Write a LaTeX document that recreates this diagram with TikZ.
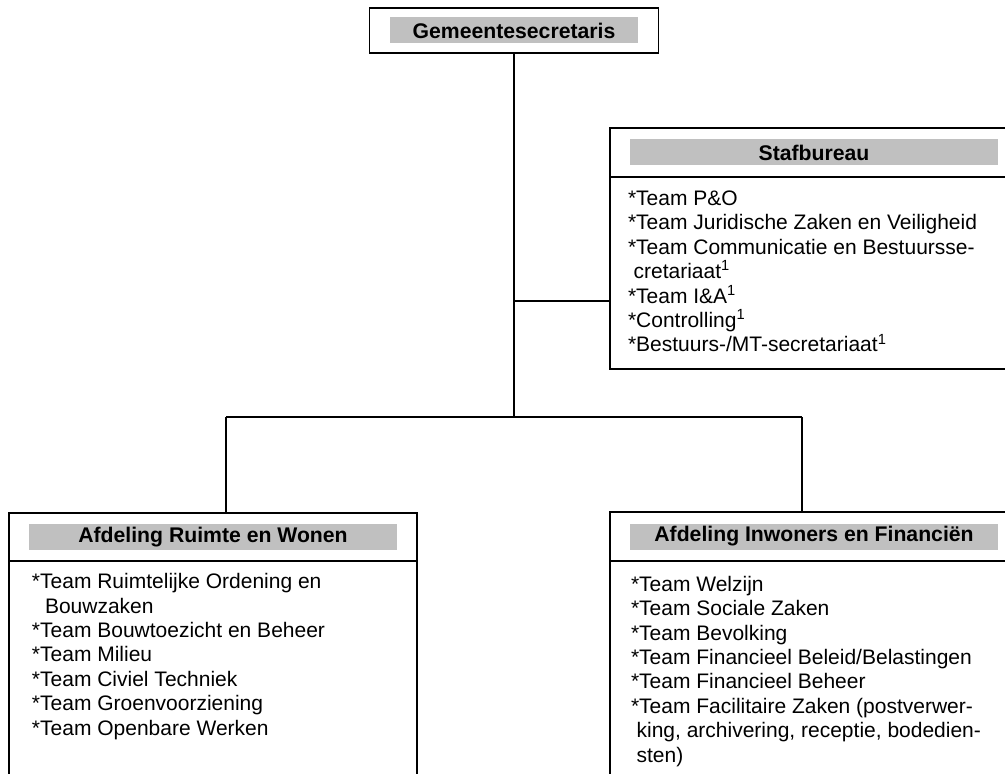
\documentclass[tikz,border=0pt]{standalone}
\usepackage{fontspec}
\setmainfont{Liberation Sans}
\definecolor{bargray}{RGB}{192,192,192}
\begin{document}
\begin{tikzpicture}
  [x=0.5pt,y=-0.5pt,line width=0.9pt,
   every node/.style={inner sep=0pt,outer sep=0pt,font=\fontsize{10.5}{12.2}\selectfont},
   headbox/.style={draw,anchor=north west,minimum height=24pt,minimum width=204pt},
   bodybox/.style={draw,anchor=north west,minimum width=204pt},
   bar/.style={fill=bargray,minimum width=184pt,minimum height=13pt,font=\fontsize{10.6}{12}\selectfont\bfseries},
   teamlist/.style={anchor=base west,align=left}]
  \clip (0,0) rectangle (1005,774);

  % top
  \node[headbox,minimum width=144.5pt,minimum height=22.5pt] (gs) at (369.5,8) {};
  \node[bar,minimum width=124pt] (gsbar) at (gs.center) {Gemeentesecretaris};

  % staf (list placed by its last baseline)
  \node[headbox,minimum height=24.5pt] (stafhead) at (610,128) {};
  \node[bar] (stafbar) at (stafhead.center) {Stafbureau};
  \node[bodybox,minimum height=96pt] (stafbody) at (stafhead.south west) {};
  \node[teamlist] (staflist) at (628,352) {*Team P\&O\\
    *Team Juridische Zaken en Veiligheid\\
    *Team Communicatie en Bestuursse-\\
    \hspace*{2.8pt}cretariaat\textsuperscript{1}\\
    *Team I\&A\textsuperscript{1}\\
    *Controlling\textsuperscript{1}\\
    *Bestuurs-/MT-secretariaat\textsuperscript{1}};

  % afdelingen
  \node[headbox] (arwhead) at (9,513) {};
  \node[bar] (arwbar) at (arwhead.center) {Afdeling Ruimte en Wonen};
  \node[bodybox,minimum height=130pt] (arwbody) at (arwhead.south west) {};
  \node[teamlist] (arwlist) at (32,735) {*Team Ruimtelijke Ordening en\\
    \hspace*{6.5pt}Bouwzaken\\
    *Team Bouwtoezicht en Beheer\\
    *Team Milieu\\
    *Team Civiel Techniek\\
    *Team Groenvoorziening\\
    *Team Openbare Werken};

  \node[headbox,minimum height=24.5pt] (aifhead) at (610,512) {};
  \node[bar] (aifbar) at (aifhead.center) {Afdeling Inwoners en Financiën};
  \node[bodybox,minimum height=130pt] (aifbody) at (aifhead.south west) {};
  \node[teamlist] (aiflist) at (631,762) {*Team Welzijn\\
    *Team Sociale Zaken\\
    *Team Bevolking\\
    *Team Financieel Beleid/Belastingen\\
    *Team Financieel Beheer\\
    *Team Facilitaire Zaken (postverwer-\\
    \hspace*{2.8pt}king, archivering, receptie, bodedien-\\
    \hspace*{2.8pt}sten)};

  \coordinate (hub) at (514,417);
  \coordinate (stafjoin) at (514,301);
  \coordinate (stafedge) at (610,301);
  \coordinate (arwtop) at (226,417);
  \coordinate (aiftop) at (802,417);
  \foreach \from/\to in {gs.south/hub,stafjoin/stafedge,arwtop/aiftop}
    \draw (\from) -- (\to);
  \draw (arwtop) -- (arwtop |- arwhead.north);
  \draw (aiftop) -- (aiftop |- aifhead.north);

\end{tikzpicture}
\end{document}
